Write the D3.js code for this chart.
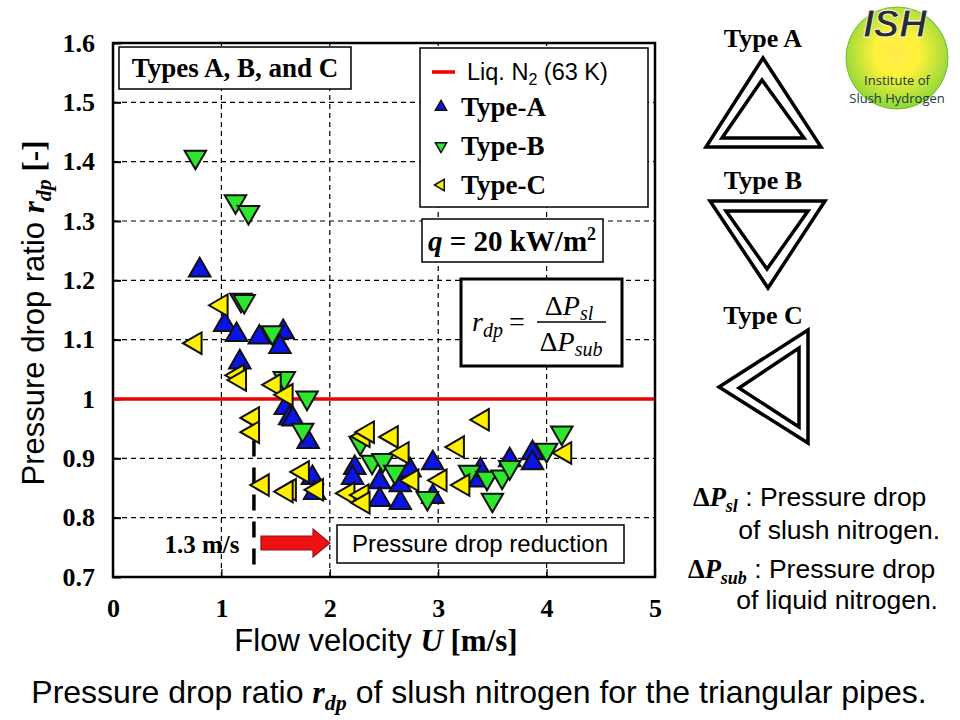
<!DOCTYPE html>
<html><head><meta charset="utf-8">
<script src="https://cdn.jsdelivr.net/npm/d3@7"></script>
<style>body{margin:0;background:#fff}svg{display:block}</style>
</head><body>
<svg id="c" width="960" height="720"></svg>
<script>
// ---------- data ----------
const xTicks = [0, 1, 2, 3, 4, 5];
const xTickLabels = ["0", "1", "2", "3", "4", "5"];
const yTicks = [0.7, 0.8, 0.9, 1.0, 1.1, 1.2, 1.3, 1.4, 1.5, 1.6];
const yTickLabels = ["0.7", "0.8", "0.9", "1", "1.1", "1.2", "1.3", "1.4", "1.5", "1.6"];

const typeA_U = [0.80, 1.03, 1.14, 1.17, 1.35, 1.57, 1.54, 1.59, 1.63, 1.66, 1.80, 1.84, 1.86, 2.23, 2.21, 2.46, 2.46, 2.65, 2.65, 2.74, 2.95, 2.95, 3.34, 3.39, 3.66, 3.87, 3.87];
const typeA_r = [1.217, 1.125, 1.108, 1.062, 1.104, 1.113, 1.088, 0.985, 0.968, 0.966, 0.928, 0.867, 0.842, 0.884, 0.867, 0.860, 0.830, 0.825, 0.855, 0.880, 0.892, 0.835, 0.863, 0.880, 0.897, 0.909, 0.892];

const typeB_U = [0.76, 1.13, 1.25, 1.18, 1.21, 1.47, 1.58, 1.79, 1.75, 2.28, 2.39, 2.49, 2.60, 2.90, 3.29, 3.45, 3.50, 3.59, 3.66, 4.00, 4.14];
const typeB_r = [1.408, 1.333, 1.315, 1.167, 1.165, 1.112, 1.035, 1.002, 0.948, 0.926, 0.894, 0.897, 0.877, 0.833, 0.877, 0.867, 0.830, 0.869, 0.885, 0.914, 0.943];

const typeC_U = [0.76, 1.00, 1.15, 1.17, 1.49, 1.60, 1.29, 1.29, 1.38, 1.63, 1.60, 1.75, 1.88, 2.31, 2.35, 2.57, 2.67, 2.76, 2.17, 2.30, 2.31, 3.02, 3.18, 3.41, 3.23, 4.17];
const typeC_r = [1.094, 1.158, 1.040, 1.032, 1.024, 1.007, 0.968, 0.944, 0.855, 0.847, 0.844, 0.877, 0.847, 0.937, 0.944, 0.936, 0.909, 0.863, 0.841, 0.838, 0.825, 0.863, 0.919, 0.965, 0.855, 0.909];

const liqN2Ratio = 1.0;
const criticalU = 1.3;
const criticalRange = [0.715, 0.93];

// ---------- setup ----------
const svg = d3.select("#c");
const SERIF = "Liberation Serif, Times New Roman, serif";
const SANS = "Liberation Sans, Arial, sans-serif";
const X0 = 113, X1 = 655, Y0 = 577, Y1 = 43;
const x = d3.scaleLinear().domain([0, 5]).range([X0, X1]);
const y = d3.scaleLinear().domain([0.7, 1.6]).range([Y0, Y1]);

const COL = {A: "#0a14e6", B: "#2ee62e", C: "#fff000"};

// grid
svg.append("g").selectAll("line.gy").data(yTicks.slice(1, -1)).join("line")
  .attr("x1", X0).attr("x2", X1).attr("y1", d => y(d)).attr("y2", d => y(d))
  .attr("stroke", "#000").attr("stroke-width", 1.2).attr("stroke-dasharray", "5,4");
svg.append("g").selectAll("line.gx").data(xTicks.slice(1, -1)).join("line")
  .attr("y1", Y0).attr("y2", Y1).attr("x1", d => x(d)).attr("x2", d => x(d))
  .attr("stroke", "#000").attr("stroke-width", 1.2).attr("stroke-dasharray", "5,4");

// axes
const gy = svg.append("g").attr("transform", `translate(${X0},0)`)
  .call(d3.axisLeft(y).tickValues(yTicks).tickSize(-8).tickPadding(18).tickFormat((d, i) => yTickLabels[i]));
gy.select(".domain").remove();
gy.selectAll("line").attr("stroke", "#000").attr("stroke-width", 2);
gy.selectAll("text").attr("font-family", SERIF).attr("font-weight", "bold").attr("font-size", 26).attr("fill", "#000");

const gx = svg.append("g").attr("transform", `translate(0,${Y0})`)
  .call(d3.axisBottom(x).tickValues(xTicks).tickSize(-8).tickPadding(22).tickFormat((d, i) => xTickLabels[i]));
gx.select(".domain").remove();
gx.selectAll("line").attr("stroke", "#000").attr("stroke-width", 1.2);
gx.selectAll("text").attr("font-family", SERIF).attr("font-weight", "bold").attr("font-size", 26).attr("fill", "#000");

// frame
svg.append("rect").attr("x", X0).attr("y", Y1).attr("width", X1 - X0).attr("height", Y0 - Y1)
  .attr("fill", "none").attr("stroke", "#000").attr("stroke-width", 2.5);

// red reference line
svg.append("line").attr("x1", X0 + 1).attr("x2", X1 - 1).attr("y1", y(liqN2Ratio)).attr("y2", y(liqN2Ratio))
  .attr("stroke", "#ee0000").attr("stroke-width", 3.5);

// critical velocity dashed line
svg.append("line").attr("x1", x(criticalU)).attr("x2", x(criticalU))
  .attr("y1", y(criticalRange[1])).attr("y2", y(criticalRange[0]))
  .attr("stroke", "#000").attr("stroke-width", 3.5).attr("stroke-dasharray", "16,11");

// points
const sym = d3.symbol().type(d3.symbolTriangle).size(200);
function drawSeries(U, R, color, rot) {
  svg.append("g").selectAll("path").data(U.map((u, i) => [u, R[i]])).join("path")
    .attr("d", sym)
    .attr("transform", d => `translate(${x(d[0])},${y(d[1])}) rotate(${rot})`)
    .attr("fill", color).attr("stroke", "#111").attr("stroke-width", 2).attr("stroke-linejoin", "miter");
}
drawSeries(typeA_U, typeA_r, COL.A, 0);
drawSeries(typeB_U, typeB_r, COL.B, 180);
drawSeries(typeC_U, typeC_r, COL.C, -90);

// "Types A, B, and C" box
svg.append("rect").attr("x", 119).attr("y", 47).attr("width", 232).attr("height", 42)
  .attr("fill", "#fff").attr("stroke", "#000").attr("stroke-width", 1.5);
svg.append("text").attr("x", 235).attr("y", 77).attr("text-anchor", "middle")
  .attr("font-family", SERIF).attr("font-weight", "bold").attr("font-size", 27).text("Types A, B, and C");

// legend
svg.append("rect").attr("x", 420).attr("y", 48).attr("width", 228).attr("height", 159)
  .attr("fill", "#fff").attr("stroke", "#000").attr("stroke-width", 1.5);
svg.append("line").attr("x1", 432).attr("x2", 455).attr("y1", 72).attr("y2", 72)
  .attr("stroke", "#ee0000").attr("stroke-width", 3.5);
const lt = svg.append("text").attr("x", 467).attr("y", 80).attr("font-family", SANS).attr("font-size", 23.5);
lt.append("tspan").text("Liq. N");
lt.append("tspan").attr("font-size", 16).attr("dy", 5).text("2");
lt.append("tspan").attr("dy", -5).text(" (63 K)");
const legItems = [["Type-A", COL.A, 0, 108], ["Type-B", COL.B, 180, 147], ["Type-C", COL.C, -90, 186]];
const lsym = d3.symbol().type(d3.symbolTriangle).size(55);
legItems.forEach(([name, col, rot, yy]) => {
  svg.append("path").attr("d", lsym).attr("transform", `translate(441,${yy - 1}) rotate(${rot})`)
    .attr("fill", col).attr("stroke", "#111").attr("stroke-width", 1.5);
  svg.append("text").attr("x", 461).attr("y", yy + 8).attr("font-family", SERIF).attr("font-weight", "bold")
    .attr("font-size", 27).text(name);
});

// q box
svg.append("rect").attr("x", 422).attr("y", 219).attr("width", 181).attr("height", 43)
  .attr("fill", "#fff").attr("stroke", "#000").attr("stroke-width", 1.5);
const qt = svg.append("text").attr("x", 512).attr("y", 251).attr("text-anchor", "middle")
  .attr("font-family", SERIF).attr("font-weight", "bold").attr("font-size", 29);
qt.append("tspan").attr("font-style", "italic").text("q");
qt.append("tspan").text(" = 20 kW/m");
qt.append("tspan").attr("font-size", 18).attr("dy", -11).text("2");

// formula box
svg.append("rect").attr("x", 461).attr("y", 279).attr("width", 161).attr("height", 87)
  .attr("fill", "#fff").attr("stroke", "#000").attr("stroke-width", 3);
const ft = svg.append("text").attr("x", 472).attr("y", 331).attr("font-family", SERIF).attr("font-size", 28);
ft.append("tspan").attr("font-style", "italic").text("r");
ft.append("tspan").attr("font-style", "italic").attr("font-size", 20).attr("dy", 6).text("dp");
ft.append("tspan").attr("dy", -6).attr("dx", 6).text("=");
svg.append("line").attr("x1", 537).attr("x2", 606).attr("y1", 322).attr("y2", 322).attr("stroke", "#000").attr("stroke-width", 1.5);
const fn = svg.append("text").attr("x", 569).attr("y", 315).attr("text-anchor", "middle").attr("font-family", SERIF).attr("font-size", 28);
fn.append("tspan").text("Δ");
fn.append("tspan").attr("font-style", "italic").text("P");
fn.append("tspan").attr("font-style", "italic").attr("font-size", 20).attr("dy", 5).text("sl");
const fd = svg.append("text").attr("x", 571).attr("y", 351).attr("text-anchor", "middle").attr("font-family", SERIF).attr("font-size", 28);
fd.append("tspan").text("Δ");
fd.append("tspan").attr("font-style", "italic").text("P");
fd.append("tspan").attr("font-style", "italic").attr("font-size", 20).attr("dy", 5).text("sub");

// bottom annotations
svg.append("text").attr("x", 202).attr("y", 553).attr("text-anchor", "middle")
  .attr("font-family", SERIF).attr("font-weight", "bold").attr("font-size", 25).text("1.3 m/s");
svg.append("path").attr("d", "M261,536 L313,536 L313,529 L330,543 L313,557 L313,550 L261,550 Z")
  .attr("fill", "#ee1111").attr("stroke", "#9a1010").attr("stroke-width", 1.2);
svg.append("rect").attr("x", 337).attr("y", 525).attr("width", 287).attr("height", 38)
  .attr("fill", "#fff").attr("stroke", "#000").attr("stroke-width", 1.5);
svg.append("text").attr("x", 480).attr("y", 552).attr("text-anchor", "middle")
  .attr("font-family", SANS).attr("font-size", 24).text("Pressure drop reduction");

// axis titles
const yt = svg.append("text").attr("transform", "translate(44,313) rotate(-90)").attr("text-anchor", "middle")
  .attr("font-family", SANS).attr("font-size", 31);
yt.append("tspan").text("Pressure drop ratio ");
yt.append("tspan").attr("font-family", SERIF).attr("font-weight", "bold").attr("font-style", "italic").text("r");
yt.append("tspan").attr("font-family", SERIF).attr("font-weight", "bold").attr("font-style", "italic").attr("font-size", 22).attr("dy", 7).text("dp");
yt.append("tspan").attr("font-family", SERIF).attr("font-weight", "bold").attr("dy", -7).text(" [-]");

const xt = svg.append("text").attr("x", 376).attr("y", 651).attr("text-anchor", "middle")
  .attr("font-family", SANS).attr("font-size", 31);
xt.append("tspan").text("Flow velocity ");
xt.append("tspan").attr("font-family", SERIF).attr("font-weight", "bold").attr("font-style", "italic").text("U");
xt.append("tspan").attr("font-family", SERIF).attr("font-weight", "bold").text(" [m/s]");

const cap = svg.append("text").attr("x", 479).attr("y", 703).attr("text-anchor", "middle")
  .attr("font-family", SANS).attr("font-size", 32);
cap.append("tspan").text("Pressure drop ratio ");
cap.append("tspan").attr("font-family", SERIF).attr("font-weight", "bold").attr("font-style", "italic").text("r");
cap.append("tspan").attr("font-family", SERIF).attr("font-weight", "bold").attr("font-style", "italic").attr("font-size", 22).attr("dy", 7).text("dp");
cap.append("tspan").attr("dy", -7).text(" of slush nitrogen for the triangular pipes.");

// right side pipe shapes
const shapes = [
  {label: "Type A", ly: 47, outer: [[763,58],[706,147],[821,147]], inner: [[762,80],[722,138],[804,138]]},
  {label: "Type B", ly: 189, outer: [[710,201],[825,201],[768,288]], inner: [[726,211],[808,211],[767,269]]},
  {label: "Type C", ly: 324, outer: [[719,387],[808,330],[808,443]], inner: [[739,388],[799,348],[799,427]]}
];
shapes.forEach(s => {
  svg.append("text").attr("x", 763).attr("y", s.ly).attr("text-anchor", "middle")
    .attr("font-family", SERIF).attr("font-weight", "bold").attr("font-size", 26).text(s.label);
  [s.outer, s.inner].forEach(p => svg.append("polygon").attr("points", p.map(q => q.join(",")).join(" "))
    .attr("fill", "none").attr("stroke", "#000").attr("stroke-width", 3.5).attr("stroke-linejoin", "miter"));
});

// legend for deltas
function deltaLine(xx, yy, sub, rest) {
  const t = svg.append("text").attr("x", xx).attr("y", yy).attr("font-size", 26.5).attr("font-family", SANS);
  t.append("tspan").attr("font-family", SERIF).attr("font-weight", "bold").text("Δ");
  t.append("tspan").attr("font-family", SERIF).attr("font-weight", "bold").attr("font-style", "italic").text("P");
  t.append("tspan").attr("font-family", SERIF).attr("font-weight", "bold").attr("font-style", "italic").attr("font-size", 18).attr("dy", 6).text(sub);
  t.append("tspan").attr("dy", -6).text(" : " + rest);
}
deltaLine(693, 506, "sl", "Pressure drop");
svg.append("text").attr("x", 940).attr("y", 539).attr("text-anchor", "end").attr("font-family", SANS).attr("font-size", 26.5).text("of slush nitrogen.");
deltaLine(688, 578, "sub", "Pressure drop");
svg.append("text").attr("x", 938).attr("y", 609).attr("text-anchor", "end").attr("font-family", SANS).attr("font-size", 26.5).text("of liquid nitrogen.");

// logo
const defs = svg.append("defs");
const rg = defs.append("radialGradient").attr("id", "lg").attr("cx", "50%").attr("cy", "45%").attr("r", "55%");
rg.append("stop").attr("offset", "0%").attr("stop-color", "#ffe94a");
rg.append("stop").attr("offset", "40%").attr("stop-color", "#fff23a");
rg.append("stop").attr("offset", "100%").attr("stop-color", "#8fd63a");
svg.append("circle").attr("cx", 897).attr("cy", 58).attr("r", 51).attr("fill", "url(#lg)").attr("stroke", "#6cbf2a").attr("stroke-width", 1);
svg.append("text").attr("x", 895).attr("y", 37).attr("text-anchor", "middle").attr("font-family", SANS)
  .attr("font-weight", "bold").attr("font-style", "italic").attr("font-size", 38).attr("fill", "#2b2b2b")
  .attr("stroke", "#fff").attr("stroke-width", 0.8).text("ISH");
svg.append("text").attr("x", 897).attr("y", 85).attr("text-anchor", "middle").attr("font-family", "Open Sans, sans-serif")
  .attr("font-size", 13).attr("fill", "#173b3b").text("Institute of");
svg.append("text").attr("x", 897).attr("y", 103).attr("text-anchor", "middle").attr("font-family", "Open Sans, sans-serif")
  .attr("font-size", 13).attr("fill", "#173b3b").text("Slush Hydrogen");
</script>
</body></html>
